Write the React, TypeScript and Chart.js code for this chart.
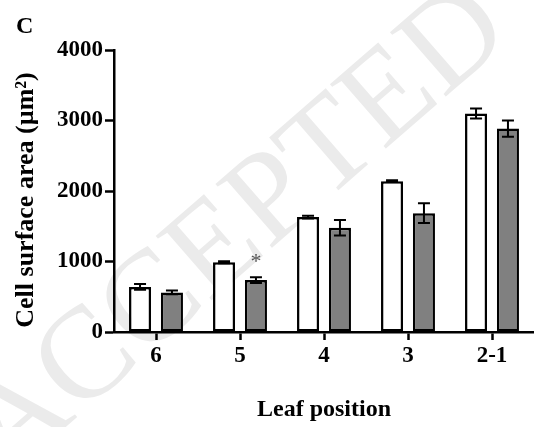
import React, { useEffect, useRef } from 'react';
import { Chart, registerables } from 'chart.js';

Chart.register(...registerables);

const categories = ['6', '5', '4', '3', '2-1'];
const controlValues = [640, 990, 1630, 2140, 3100];
const controlErrors = [40, 15, 20, 12, 70];
const treatedValues = [562, 736, 1480, 1685, 2885];
const treatedErrors = [25, 42, 110, 140, 115];
const treatedMarks = ['', '*', '', '', ''];
const yMin = 0;
const yMax = 4000;
const yStep = 1000;
const panelLabel = 'C';
const yTitle = 'Cell surface area (µm²)';
const xTitle = 'Leaf position';
const watermarkText = 'ACCEPTED';

const SERIF = "'Liberation Serif', 'Times New Roman', serif";

const watermarkPlugin = {
  id: 'watermark',
  beforeDraw(chart: any) {
    const ctx = chart.ctx;
    ctx.save();
    ctx.translate(238, 232);
    ctx.rotate((-41 * Math.PI) / 180);
    ctx.font = `130px ${SERIF}`;
    ctx.fillStyle = '#ebebeb';
    ctx.textAlign = 'center';
    ctx.textBaseline = 'middle';
    ctx.fillText(watermarkText, 0, 0);
    ctx.restore();
  },
};

const errorBarPlugin = {
  id: 'errorBars',
  afterDatasetsDraw(chart: any) {
    const ctx = chart.ctx;
    const yScale = chart.scales.y;
    const errs = [controlErrors, treatedErrors];
    ctx.save();
    ctx.strokeStyle = '#000';
    ctx.lineWidth = 2;
    chart.data.datasets.forEach((ds: any, di: number) => {
      const meta = chart.getDatasetMeta(di);
      meta.data.forEach((bar: any, i: number) => {
        const v = ds.data[i];
        const e = errs[di][i];
        const x = bar.x;
        const top = yScale.getPixelForValue(v + e);
        const bot = yScale.getPixelForValue(v - e);
        ctx.beginPath();
        ctx.moveTo(x, top);
        ctx.lineTo(x, bot);
        ctx.moveTo(x - 6, top);
        ctx.lineTo(x + 6, top);
        ctx.moveTo(x - 6, bot);
        ctx.lineTo(x + 6, bot);
        ctx.stroke();
      });
    });
    const meta = chart.getDatasetMeta(1);
    ctx.fillStyle = '#555';
    ctx.font = `22px ${SERIF}`;
    ctx.textAlign = 'center';
    ctx.textBaseline = 'alphabetic';
    treatedMarks.forEach((m, i) => {
      if (!m) return;
      const bar = meta.data[i];
      const top = yScale.getPixelForValue(treatedValues[i] + treatedErrors[i]);
      ctx.fillText(m, bar.x, top - 9);
    });
    ctx.restore();
  },
};

const textPlugin = {
  id: 'extraText',
  afterDraw(chart: any) {
    const ctx = chart.ctx;
    ctx.save();
    ctx.fillStyle = '#000';
    ctx.font = `bold 24px ${SERIF}`;
    ctx.textAlign = 'left';
    ctx.textBaseline = 'alphabetic';
    ctx.fillText(panelLabel, 16, 33);
    ctx.translate(26, 200);
    ctx.rotate(-Math.PI / 2);
    ctx.font = `bold 26px ${SERIF}`;
    ctx.textAlign = 'center';
    ctx.textBaseline = 'middle';
    ctx.fillText(yTitle, 0, 0);
    ctx.restore();
  },
};

export default function App() {
  const ref = useRef<HTMLCanvasElement | null>(null);
  useEffect(() => {
    if (!ref.current) return;
    const chart = new Chart(ref.current, {
      type: 'bar',
      data: {
        labels: categories,
        datasets: [
          {
            label: 'Control',
            data: controlValues,
            backgroundColor: '#ffffff',
            borderColor: '#000000',
            borderWidth: 2.5,
            borderSkipped: false,
            categoryPercentage: 0.76,
            barPercentage: 0.69,
          },
          {
            label: 'Treated',
            data: treatedValues,
            backgroundColor: '#808080',
            borderColor: '#000000',
            borderWidth: 2.5,
            borderSkipped: false,
            categoryPercentage: 0.76,
            barPercentage: 0.69,
          },
        ],
      },
      options: {
        responsive: false,
        animation: false,
        layout: { padding: { top: 50, left: 0, right: 0, bottom: 0 } },
        plugins: {
          legend: { display: false },
          tooltip: { enabled: false },
          title: { display: false },
        },
        scales: {
          x: {
            offset: true,
            grid: {
              offset: false,
              drawOnChartArea: false,
              drawTicks: true,
              tickLength: 8,
              tickWidth: 2.5,
              tickColor: '#000',
            },
            border: { display: true, color: '#000', width: 2.5 },
            ticks: {
              color: '#000',
              padding: 2,
              font: { family: SERIF, size: 23, weight: 'bold' },
              maxRotation: 0,
            },
            title: {
              display: true,
              text: xTitle,
              color: '#000',
              font: { family: SERIF, size: 24, weight: 'bold' },
              padding: { top: 0, bottom: 3 },
            },
            afterFit(scale: any) {
              scale.height = 95;
            },
          },
          y: {
            min: yMin,
            max: yMax,
            grid: {
              drawOnChartArea: false,
              drawTicks: true,
              tickLength: 9,
              tickWidth: 2.5,
              tickColor: '#000',
            },
            border: { display: true, color: '#000', width: 2.5 },
            ticks: {
              stepSize: yStep,
              color: '#000',
              padding: 2,
              font: { family: SERIF, size: 23, weight: 'bold' },
              callback: (v: any) => String(v),
            },
            afterFit(scale: any) {
              scale.width = 114;
            },
          },
        },
      },
      plugins: [watermarkPlugin, errorBarPlugin, textPlugin],
    });
    return () => chart.destroy();
  }, []);
  return (
    <div style={{ position: 'fixed', left: 0, top: 0, width: 534, height: 427, background: '#fff' }}>
      <canvas ref={ref} width={534} height={427} style={{ display: 'block' }} />
    </div>
  );
}
